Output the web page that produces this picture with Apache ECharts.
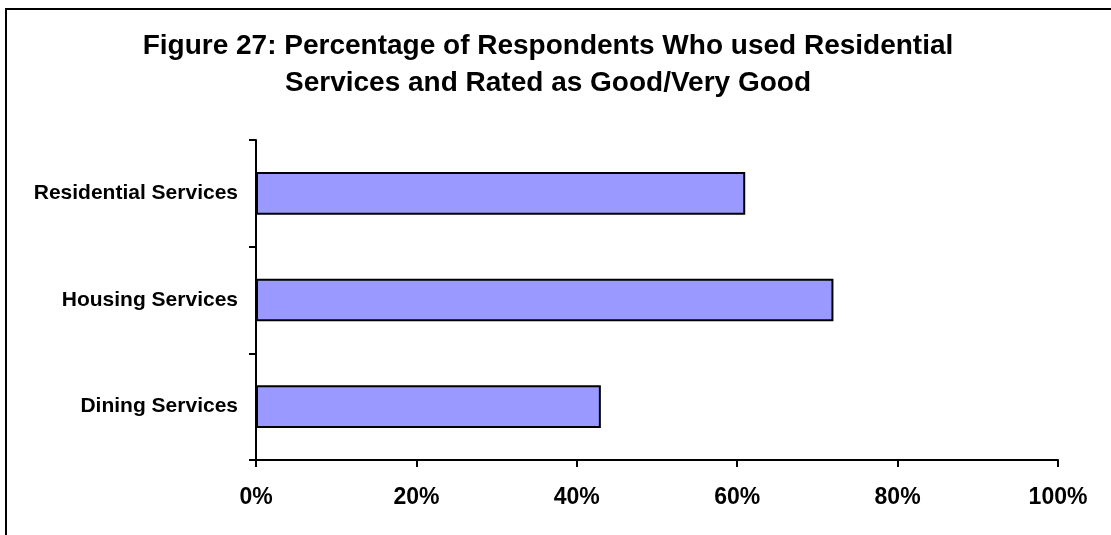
<!DOCTYPE html>
<html>
<head>
<meta charset="utf-8">
<script src="https://cdn.jsdelivr.net/npm/echarts@6/dist/echarts.min.js"></script>
<style>
  html, body { margin: 0; padding: 0; background: #fff; }
  #chart { width: 1111px; height: 535px; }
</style>
</head>
<body>
<div id="chart"></div>
<script>
// Services rated, listed bottom-to-top as drawn on the category axis
const categories = ['Dining Services', 'Housing Services', 'Residential Services'];
// Share of respondents rating each service Good/Very Good (%)
const goodShare = [43, 72, 61];
// Percent axis ticks
const xTicks = [0, 20, 40, 60, 80, 100];

const FONT = '"Liberation Sans", Arial, Helvetica, sans-serif';

const chart = echarts.init(document.getElementById('chart'), null, { renderer: 'canvas' });

chart.setOption({
  backgroundColor: '#ffffff',
  animation: false,
  title: {
    text: 'Figure 27: Percentage of Respondents Who used Residential\nServices and Rated as Good/Very Good',
    left: 543,
    top: 23,
    textAlign: 'center',
    textStyle: {
      fontFamily: FONT,
      fontWeight: 'bold',
      fontSize: 28,
      lineHeight: 37,
      color: '#000'
    }
  },
  graphic: [{
    type: 'rect',
    shape: { x: 6, y: 9, width: 1200, height: 600 },
    style: { fill: 'none', stroke: '#000', lineWidth: 2 },
    silent: true
  }],
  grid: { left: 256, right: 53, top: 140, bottom: 75, containLabel: false },
  xAxis: {
    type: 'value',
    min: xTicks[0],
    max: xTicks[xTicks.length - 1],
    interval: xTicks[1] - xTicks[0],
    axisLine: { show: true, lineStyle: { color: '#000', width: 2 } },
    axisTick: { show: true, length: 7, lineStyle: { color: '#000', width: 2 } },
    splitLine: { show: false },
    axisLabel: {
      formatter: '{value}%',
      margin: 26,
      fontFamily: FONT,
      fontWeight: 'bold',
      fontSize: 23,
      color: '#000'
    }
  },
  yAxis: {
    type: 'category',
    data: categories,
    axisLine: { show: true, lineStyle: { color: '#000', width: 2 } },
    axisTick: { show: true, length: 7, lineStyle: { color: '#000', width: 2 } },
    axisLabel: {
      margin: 18,
      fontFamily: FONT,
      fontWeight: 'bold',
      fontSize: 21,
      color: '#000'
    }
  },
  series: [{
    type: 'bar',
    data: goodShare,
    barWidth: '40%',
    itemStyle: { color: '#9999FF', borderColor: '#000', borderWidth: 2 }
  }]
});
</script>
</body>
</html>
